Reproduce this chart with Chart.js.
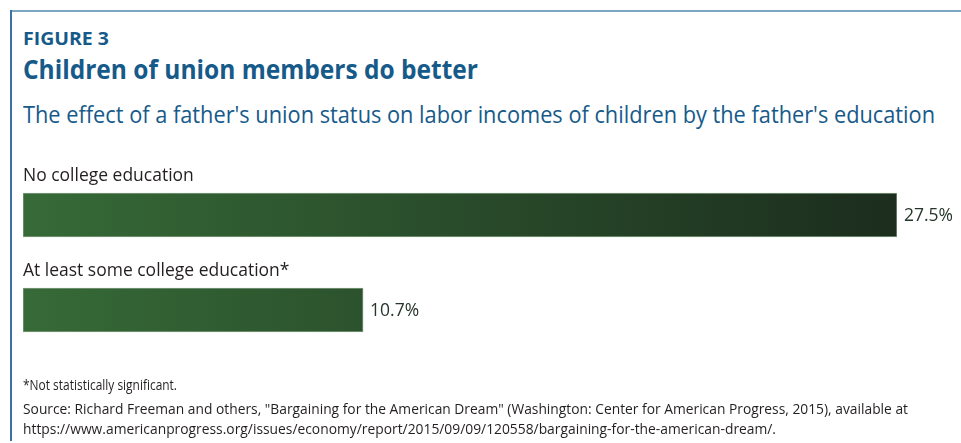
<!DOCTYPE html>
<html>
<head>
<meta charset="utf-8">
<script src="https://cdn.jsdelivr.net/npm/chart.js@4"></script>
<style>
  html, body { margin: 0; padding: 0; background: #fff; }
  #wrap { position: relative; width: 961px; height: 443px; overflow: hidden; font-family: "Open Sans", sans-serif; }
  #frame-top { position: absolute; left: 11px; top: 10px; width: 950px; height: 2px; background: #7ba7c1; }
  #frame-left { position: absolute; left: 10px; top: 10px; width: 2px; height: 431px; background: #3a72a6; }
  .txt { position: absolute; left: 23px; white-space: nowrap; transform-origin: 0 0; }
  #fig { top: 26px; font-size: 18px; font-weight: 700; color: #165a8a; }
  #title { top: 50px; font-size: 27px; font-weight: 700; color: #165a8a; }
  #subtitle { top: 98px; font-size: 23px; color: #165a8a; }
  #note { top: 375px; font-size: 14px; color: #231f20; }
  #src1 { top: 399px; font-size: 14px; color: #231f20; }
  #src2 { top: 419px; font-size: 14px; color: #231f20; }
  canvas { position: absolute; left: 0; top: 0; }
</style>
</head>
<body>
<div id="wrap">
  <div id="frame-top"></div>
  <div id="frame-left"></div>
  <div class="txt" id="fig" data-w="86">FIGURE 3</div>
  <div class="txt" id="title" data-w="455">Children of union members do better</div>
  <div class="txt" id="subtitle" data-w="912">The effect of a father's union status on labor incomes of children by the father's education</div>
  <canvas id="chart" width="961" height="443"></canvas>
  <div class="txt" id="note" data-w="154">*Not statistically significant.</div>
  <div class="txt" id="src1" data-w="885">Source: Richard Freeman and others, "Bargaining for the American Dream" (Washington: Center for American Progress, 2015), available at</div>
  <div class="txt" id="src2" data-w="753">https://www.americanprogress.org/issues/economy/report/2015/09/09/120558/bargaining-for-the-american-dream/.</div>
</div>
<script>
// categories and the effect of a union father on children's labor income (percent)
const categories = ['No college education', 'At least some college education*'];
const effectValues = [27.5, 10.7];
const valueLabels = ['27.5%', '10.7%'];

// squeeze text lines to their set width (the original face is narrower than Open Sans)
document.querySelectorAll('.txt[data-w]').forEach(function (el) {
    let target = parseFloat(el.dataset.w);
    let actual = el.getBoundingClientRect().width;
    if (actual > 0) el.style.transform = 'scaleX(' + (target / actual) + ')';
});

let barFill = function (context) {
    let chart = context.chart;
    let area = chart.chartArea;
    if (!area) return '#2d5530';
    let g = chart.ctx.createLinearGradient(area.left, 0, area.right, 0);
    g.addColorStop(0, '#366a37');
    g.addColorStop(1, '#1c2d1e');
    return g;
};

// category names above each bar and the value just past its end
const barLabels = {
    id: 'barLabels',
    afterDatasetsDraw: function (chart) {
        let ctx = chart.ctx;
        let meta = chart.getDatasetMeta(0);
        ctx.save();
        ctx.font = '19px "Open Sans"';
        meta.data.forEach(function (bar, i) {
            let top = bar.y - bar.height / 2;
            ctx.save();
            ctx.translate(chart.chartArea.left, top - 12);
            ctx.scale(0.92, 1);
            ctx.fillStyle = '#231f20';
            ctx.textBaseline = 'alphabetic';
            ctx.fillText(categories[i], 0, 0);
            ctx.restore();

            ctx.save();
            ctx.translate(bar.x + 7, bar.y + 1);
            ctx.scale(0.92, 1);
            ctx.fillStyle = '#26362a';
            ctx.textBaseline = 'middle';
            ctx.fillText(valueLabels[i], 0, 0);
            ctx.restore();
        });
        ctx.restore();
    }
};

new Chart(document.getElementById('chart'), {
    type: 'bar',
    data: {
        labels: categories,
        datasets: [{
            data: effectValues,
            backgroundColor: barFill,
            borderColor: '#7f9c80',
            borderWidth: 1,
            borderSkipped: false,
            barThickness: 44
        }]
    },
    options: {
        indexAxis: 'y',
        responsive: false,
        devicePixelRatio: 1,
        animation: false,
        layout: { padding: { left: 23, right: 64, top: 167.5, bottom: 85.5 } },
        scales: {
            x: { display: false, min: 0, max: 27.5 },
            y: { display: false }
        },
        plugins: {
            legend: { display: false },
            tooltip: { enabled: false }
        }
    },
    plugins: [barLabels]
});
</script>
</body>
</html>
